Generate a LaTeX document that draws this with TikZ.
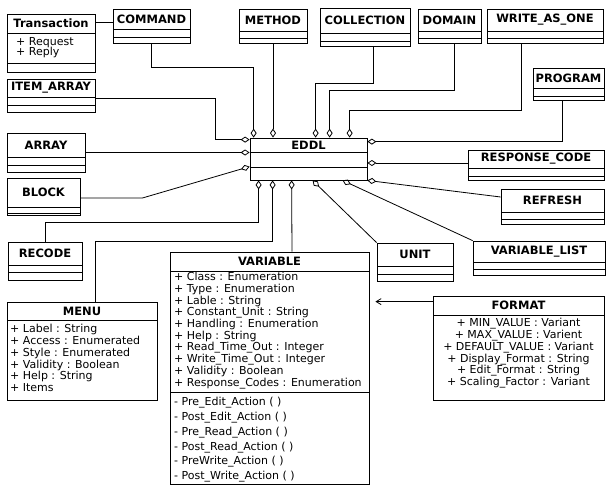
\documentclass[tikz,border=0pt]{standalone}
\usepackage{fontspec}
\setmainfont{DejaVu Sans}
\usetikzlibrary{arrows.meta,positioning,fit,calc}
\tikzset{
  cls/.style={draw=black,line width=0.8pt,inner sep=0pt},
  ttl/.style={font=\fontsize{11.5pt}{12pt}\selectfont\bfseries,inner sep=0pt},
  attr/.style={font=\fontsize{11pt}{12pt}\selectfont,inner sep=0pt,
    text height=8pt,text depth=2.5pt},
  sep/.style={line width=0.8pt},
  agg/.style={line width=0.8pt,-{Diamond[open,length=9pt,width=6pt]}},
  dep/.style={line width=0.8pt,-{Straight Barb[length=5pt,width=6pt]},shorten >=6pt},
}

\begin{document}
\begin{tikzpicture}[x=1pt,y=-1pt]
  \useasboundingbox (0,0) rectangle (607,491);
  % classes: name/title/left/top/right/bottom/separators
  \foreach \nm/\ti/\xa/\ya/\xb/\yb/\sepa/\sepb in {
    transaction/Transaction/7/14/95/72/33/63,
    command/COMMAND/113/9/190/43/29/37,
    itemarray/ITEM\_ARRAY/7/79/95/112/97/105,
    method/METHOD/239/9/307/43/31/38,
    collection/COLLECTION/320/8/410/46/33/41,
    domain/DOMAIN/418/9/481/43/31/38,
    writeasone/WRITE\_AS\_ONE/487/9/603/43/31/38,
    program/PROGRAM/533/68/604/100/88/96,
    array/ARRAY/7/133/85/172/157/165,
    block/BLOCK/7/178/80/215/207/213,
    recode/RECODE/8/242/82/280/265/272,
    eddl/EDDL/250/138/367/180/152/167,
    respcode/RESPONSE\_CODE/468/150/604/180/168/176,
    refresh/REFRESH/501/189/604/224/212/219,
    varlist/VARIABLE\_LIST/473/241/605/275/262/269,
    unit/UNIT/377/243/453/281/266/274,
    variable/VARIABLE/170/252/369/484/271/392,
    menu/MENU/7/302/157/400/320/400,
    format/FORMAT/433/296/604/400/315/400}
  {
    \node[cls,fit={(\xa,\ya) (\xb,\yb)}] (\nm) {};
    \draw[sep] (\xa,\sepa) -- (\xb,\sepa) (\xa,\sepb) -- (\xb,\sepb);
    \node[ttl] (\nm-t) at ({(\xa+\xb)/2},{(\ya+\sepa)/2}) {\ti};
  }

  % attributes and operations
  \foreach \t [count=\i] in {+ Request,+ Reply}
    \node[attr,anchor=west] (transaction-a\i) at (16,{32+\i*10.5}) {\t};
  \foreach \t [count=\i] in {+ Class : Enumeration,+ Type : Enumeration,
      + Lable : String,+ Constant\_Unit : String,+ Handling : Enumeration,
      + Help : String,+ Read\_Time\_Out : Integer,+ Write\_Time\_Out : Integer,
      + Validity : Boolean,+ Response\_Codes : Enumeration}
    \node[attr,anchor=west] (variable-a\i) at (174,{266.3+\i*11.7}) {\t};
  \foreach \t [count=\i] in {- Pre\_Edit\_Action ( ),- Post\_Edit\_Action ( ),
      - Pre\_Read\_Action ( ),- Post\_Read\_Action ( ),- PreWrite\_Action ( ),
      - Post\_Write\_Action ( )}
    \node[attr,anchor=west] (variable-o\i) at (174,{388.2+\i*14.8}) {\t};
  \foreach \t [count=\i] in {+ Label : String,+ Access : Enumerated,
      + Style : Enumerated,+ Validity : Boolean,+ Help : String,+ Items}
    \node[attr,anchor=west] (menu-a\i) at (10,{318.2+\i*11.8}) {\t};
  \foreach \t [count=\i] in {+ MIN\_VALUE : Variant,+ MAX\_VALUE : Varient,
      + DEFAULT\_VALUE : Variant,+ Display\_Format : String,
      + Edit\_Format : String,+ Scaling\_Factor : Variant}
    \node[attr] (format-a\i) at (518.5,{312.2+\i*11.8}) {\t};

  % aggregations into EDDL
  \draw[agg] (command.south) -- ++(0,24) -| ([xshift=4pt]eddl.north west);
  \draw[agg] (method.south) -- (method.south |- eddl.north);
  \draw[agg] ([xshift=8pt]collection.south) -- ++(0,37) -| ([xshift=66pt]eddl.north west);
  \draw[agg] ([xshift=4.5pt]domain.south) -- ++(0,47) -| ([xshift=80pt]eddl.north west);
  \draw[agg] ([xshift=-24pt]writeasone.south) -- ++(0,67) -| ([xshift=100pt]eddl.north west);
  \draw[agg] ([xshift=-6.5pt]program.south) |- ([yshift=-4pt]eddl.north east);
  \draw[agg] ([yshift=-2.5pt]itemarray.east) -- ++(120,0) |- ([yshift=-2pt]eddl.north west);
  \draw[agg] (array.east) -- (array.east -| eddl.west);
  \draw[agg] ([yshift=-1.5pt]block.east) -- ++(62,0) -- ([yshift=-29pt]eddl.north west);
  \draw[agg] (recode.north) -- ++(0,-19) -| ([xshift=9pt]eddl.south west);
  \draw[agg] ([xshift=13pt]menu.north) -- ++(0,-60) -| ([xshift=23pt]eddl.south west);
  \draw[agg] ([xshift=22.5pt]variable.north) -- ([xshift=42pt]eddl.south west);
  \draw[agg] (unit.north west) -- ([xshift=63pt]eddl.south west);
  \draw[agg] (varlist.north west) -- ([xshift=93pt]eddl.south west);
  \draw[agg] ([yshift=9.5pt]refresh.west) -- (eddl.south east);
  \draw[agg] ([yshift=2pt]respcode.west) -- ([yshift=2pt]respcode.west -| eddl.east);

  % other links
  \draw[sep] ([yshift=21pt]transaction.east) -- ([yshift=21pt]transaction.east -| command.west);
  \draw[dep] ([yshift=-6pt]format.north west) -- ([yshift=-6pt]format.north west -| variable.east);
\end{tikzpicture}
\end{document}
